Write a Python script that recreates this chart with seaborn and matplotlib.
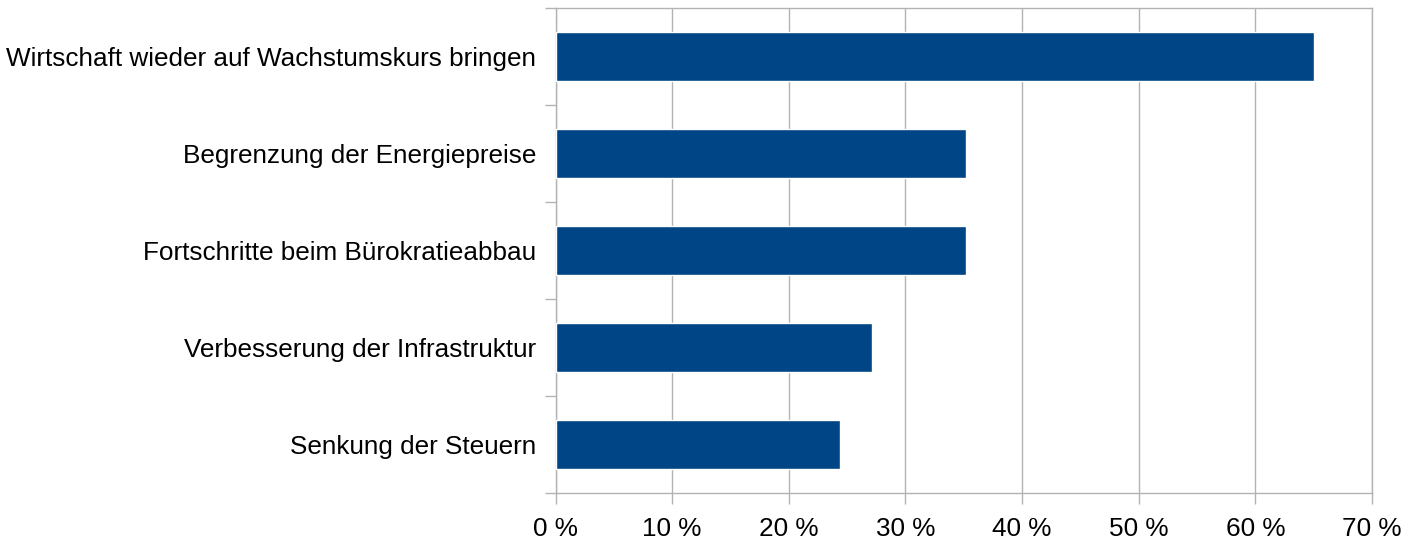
import matplotlib.pyplot as plt
import seaborn as sns
import pandas as pd
from matplotlib.ticker import FixedLocator

categories = [
    "Wirtschaft wieder auf Wachstumskurs bringen",
    "Begrenzung der Energiepreise",
    "Fortschritte beim Bürokratieabbau",
    "Verbesserung der Infrastruktur",
    "Senkung der Steuern",
]
shares = [65.0, 35.2, 35.2, 27.1, 24.4]
x_ticks = [0, 10, 20, 30, 40, 50, 60, 70]

df = pd.DataFrame({"Kategorie": categories, "Anteil": shares})

sns.set_style("white")
plt.rcParams["font.family"] = ["Liberation Sans", "DejaVu Sans"]

fig = plt.figure(figsize=(14.2, 5.42), dpi=100)
ax = fig.add_axes([555.5 / 1420, 1 - 493 / 542, (1372 - 555.5) / 1420, (493 - 8) / 542])

grey = "#b3b3b3"
sns.barplot(data=df, x="Anteil", y="Kategorie", orient="h", color="#004586",
            width=0.5, saturation=1, ax=ax, zorder=3)

ax.set_xlim(0, 70)
ax.set_ylim(4.5, -0.5)
ax.set_xticks(x_ticks)
ax.set_xticklabels([f"{t} %" for t in x_ticks])
ax.set_xlabel("")
ax.set_ylabel("")

# y ticks sit between categories, labels in the middle
ax.yaxis.set_major_locator(FixedLocator(range(len(categories))))
ax.set_yticklabels(categories)
ax.yaxis.set_minor_locator(FixedLocator([i - 0.5 for i in range(len(categories) + 1)]))
ax.tick_params(axis="y", which="major", length=0, pad=14, labelsize=18.8, labelcolor="black")
ax.tick_params(axis="y", which="minor", length=8, width=1, color=grey, direction="out", left=True)
ax.tick_params(axis="x", which="major", length=8, width=1, color=grey, direction="out",
               bottom=True, pad=9, labelsize=18.8, labelcolor="black")

ax.xaxis.grid(True, color=grey, linewidth=1, zorder=0)
ax.set_axisbelow(True)
for side in ["left", "bottom", "top", "right"]:
    ax.spines[side].set_visible(True)
    ax.spines[side].set_color(grey)
    ax.spines[side].set_linewidth(1)

fig.savefig("out.png", dpi=100)
